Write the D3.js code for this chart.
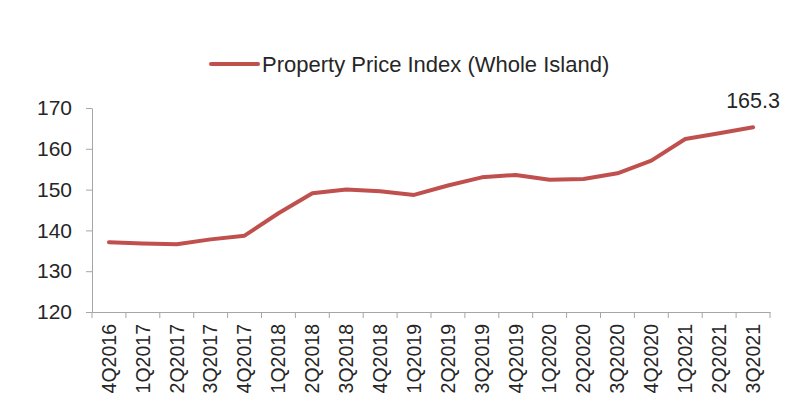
<!DOCTYPE html>
<html>
<head>
<meta charset="utf-8">
<script src="https://cdn.jsdelivr.net/npm/d3@7"></script>
<style>
  body { margin: 0; background: #fff; }
  svg { font-family: "Liberation Sans", Arial, sans-serif; }
</style>
</head>
<body>
<svg id="chart" width="800" height="420"></svg>
<script>
const QUARTERS = [
  "4Q2016", "1Q2017", "2Q2017", "3Q2017", "4Q2017", "1Q2018", "2Q2018",
  "3Q2018", "4Q2018", "1Q2019", "2Q2019", "3Q2019", "4Q2019", "1Q2020",
  "2Q2020", "3Q2020", "4Q2020", "1Q2021", "2Q2021", "3Q2021"
];
const PRICE_INDEX = [
  137.1, 136.8, 136.6, 137.8, 138.7, 144.2, 149.1, 150.0, 149.6, 148.7,
  151.0, 153.0, 153.6, 152.4, 152.6, 154.0, 157.1, 162.4, 163.8, 165.3
];
const Y_TICKS = [120, 130, 140, 150, 160, 170];
const SERIES_NAME = "Property Price Index (Whole Island)";

const LINE_COLOR = "#c0504d";
const AXIS_COLOR = "#a6a6a6";
const TEXT_COLOR = "#262626";

const svg = d3.select("#chart");
const PLOT = { left: 92, right: 770, top: 108, bottom: 312 };

const x = d3.scaleBand().domain(QUARTERS).range([PLOT.left, PLOT.right]);
const y = d3.scaleLinear().domain([120, 170]).range([PLOT.bottom, PLOT.top]);

// y axis
const yAxis = svg.append("g")
  .attr("transform", `translate(${PLOT.left},0)`)
  .call(d3.axisLeft(y).tickValues(Y_TICKS).tickSize(6).tickSizeOuter(0).tickPadding(14));
yAxis.select(".domain").attr("stroke", AXIS_COLOR);
yAxis.selectAll(".tick line").attr("stroke", AXIS_COLOR);
yAxis.selectAll(".tick text")
  .attr("fill", TEXT_COLOR)
  .attr("font-size", 21)
  .attr("font-family", "Liberation Sans, Arial, sans-serif");

// x axis, ticks sit on category boundaries like Excel
const xAxis = svg.append("g")
  .attr("transform", `translate(0,${PLOT.bottom})`)
  .call(d3.axisBottom(x).tickSize(0).tickSizeOuter(0));
xAxis.select(".domain").attr("stroke", AXIS_COLOR);
xAxis.selectAll(".tick text")
  .attr("fill", TEXT_COLOR)
  .attr("font-size", 19.5)
  .attr("font-family", "Liberation Sans, Arial, sans-serif")
  .attr("text-anchor", "end")
  .attr("transform", "rotate(-90)")
  .attr("x", -12)
  .attr("y", 0)
  .attr("dy", "0.35em");

const boundaries = QUARTERS.map(q => x(q)).concat([x.range()[1]]);
svg.append("g")
  .selectAll("line")
  .data(boundaries)
  .join("line")
  .attr("x1", d => d)
  .attr("x2", d => d)
  .attr("y1", PLOT.bottom)
  .attr("y2", PLOT.bottom + 6)
  .attr("stroke", AXIS_COLOR);

// series line
const line = d3.line()
  .x((d, i) => x(QUARTERS[i]) + x.bandwidth() / 2)
  .y(d => y(d));

svg.append("path")
  .datum(PRICE_INDEX)
  .attr("d", line)
  .attr("fill", "none")
  .attr("stroke", LINE_COLOR)
  .attr("stroke-width", 4)
  .attr("stroke-linejoin", "round")
  .attr("stroke-linecap", "round");

// label on the last point
const lastIdx = PRICE_INDEX.length - 1;
svg.append("text")
  .attr("x", x(QUARTERS[lastIdx]) + x.bandwidth() / 2)
  .attr("y", y(PRICE_INDEX[lastIdx]) - 19)
  .attr("text-anchor", "middle")
  .attr("font-size", 21.5)
  .attr("fill", TEXT_COLOR)
  .text(PRICE_INDEX[lastIdx].toFixed(1));

// legend
const legend = svg.append("g").attr("transform", "translate(211,64)");
legend.append("line")
  .attr("x1", 0).attr("x2", 47)
  .attr("stroke", LINE_COLOR)
  .attr("stroke-width", 4)
  .attr("stroke-linecap", "round");
legend.append("text")
  .attr("x", 51)
  .attr("dy", "0.35em")
  .attr("font-size", 22)
  .attr("fill", TEXT_COLOR)
  .text(SERIES_NAME);
</script>
</body>
</html>
